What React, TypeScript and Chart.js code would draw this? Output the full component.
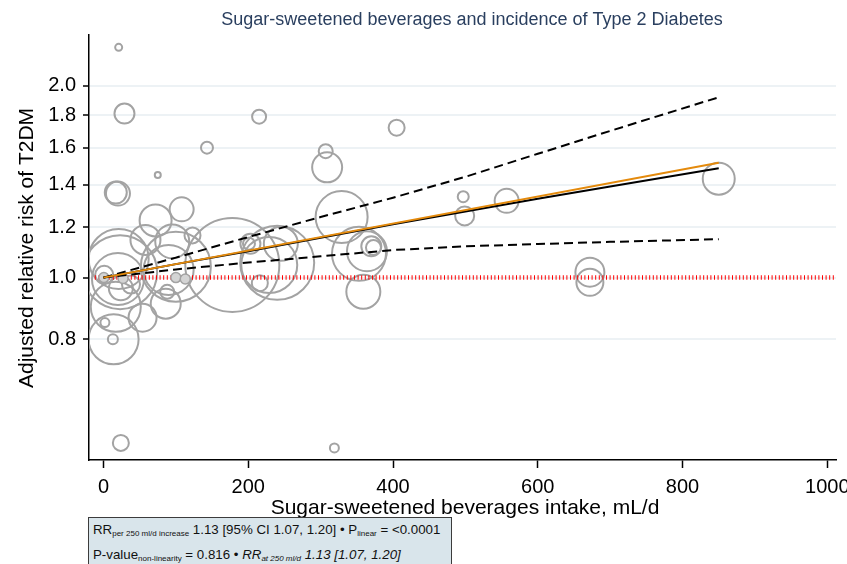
import React, { useEffect, useRef } from 'react';
import { Chart, registerables } from 'chart.js';

Chart.register(...registerables);

const TITLE = 'Sugar-sweetened beverages and incidence of Type 2 Diabetes';
const X_TITLE = 'Sugar-sweetened beverages intake, mL/d';
const Y_TITLE = 'Adjusted relative risk of T2DM';

const xTicks = [0, 200, 400, 600, 800, 1000];
const yTicks = [0.8, 1.0, 1.2, 1.4, 1.6, 1.8, 2.0];

// individual study estimates: dose (mL/d), relative risk, study weight (bubble radius)
const studyDose = [21, 29, 215, 143, 75, 307, 309, 17, 20, 72, 108, 329, 405, 497, 499, 557, 850, 672, 672, 24, 319, 359, 353, 364, 370, 373, 178, 203, 201, 245, 229, 240, 216, 58, 95, 123, 21, 23, 20, 100, 90, 24, 38, 17, 54, 86, 88, 2, 14, 13, 1];
const studyRR = [2.30, 1.81, 1.79, 1.60, 1.45, 1.58, 1.49, 1.36, 1.355, 1.23, 1.28, 1.245, 1.72, 1.34, 1.25, 1.32, 1.43, 1.02, 0.983, 0.55, 0.54, 0.95, 1.09, 1.10, 1.12, 1.115, 1.047, 1.13, 1.13, 1.13, 1.047, 1.055, 0.98, 1.146, 1.14, 1.165, 1.07, 1.02, 0.995, 1.04, 1.028, 0.962, 0.975, 0.90, 0.865, 0.91, 0.95, 0.85, 0.80, 0.80, 1.01];
const studyWeight = [3.5, 10, 7, 6, 3, 7, 15, 11, 12, 16, 12, 26, 8, 5.5, 9.5, 12, 16, 14.5, 13.5, 8, 4.5, 17, 27, 20, 10, 7.5, 47, 10, 6, 17, 28, 37, 8, 15, 17, 8, 30, 37, 26, 35, 25, 12, 9, 25, 14, 15, 7, 4.5, 25, 5, 9];

// reference categories
const refDose = [0.5, 27, 100, 113];
const refRR = [1.0, 0.997, 1.0, 0.995];
const refWeight = [5, 5, 5, 5];

// dose-response curves
const curveDose = [0, 100, 200, 300, 400, 500, 600, 700, 850];
const splineRR = [1.0, 1.05, 1.10, 1.155, 1.213, 1.27, 1.33, 1.39, 1.485];
const upperCI = [1.0, 1.075, 1.158, 1.245, 1.335, 1.44, 1.565, 1.70, 1.92];
const lowerCI = [1.0, 1.03, 1.056, 1.08, 1.105, 1.12, 1.129, 1.138, 1.149];
const linearDose = [0, 850];
const linearRR = [1.0, 1.515];
const nullDose = [-12, 1012];
const nullRR = [1.0, 1.0];

const FONT = "'Liberation Sans', Arial, Helvetica, sans-serif";

const zip = (xs: number[], ys: number[]) => xs.map((x, i) => ({ x, y: ys[i] }));

const textPlugin = {
  id: 'texts',
  afterDraw(chart: any) {
    const ctx = chart.ctx as CanvasRenderingContext2D;
    ctx.save();
    ctx.textAlign = 'center';
    ctx.textBaseline = 'middle';
    ctx.fillStyle = '#2a3f5f';
    ctx.font = `18px ${FONT}`;
    ctx.fillText(TITLE, 472, 20);
    ctx.fillStyle = '#000';
    ctx.font = `21px ${FONT}`;
    ctx.fillText(X_TITLE, 465, 508);
    ctx.translate(27, 248);
    ctx.rotate(-Math.PI / 2);
    ctx.fillText(Y_TITLE, 0, 0);
    ctx.restore();
  },
};

export default function App() {
  const ref = useRef<HTMLCanvasElement | null>(null);

  useEffect(() => {
    if (!ref.current) return;
    const chart = new Chart(ref.current, {
      type: 'bubble',
      data: {
        datasets: [
          {
            type: 'line',
            data: zip(linearDose, linearRR),
            borderColor: '#e48a0c',
            borderWidth: 2,
            pointRadius: 0,
            fill: false,
            order: 0,
          } as any,
          {
            type: 'line',
            data: zip(curveDose, splineRR),
            borderColor: '#000',
            borderWidth: 2,
            pointRadius: 0,
            fill: false,
            order: 1,
          } as any,
          {
            type: 'line',
            data: zip(curveDose, upperCI),
            borderColor: '#000',
            borderWidth: 2,
            borderDash: [9, 5],
            pointRadius: 0,
            fill: false,
            order: 2,
          } as any,
          {
            type: 'line',
            data: zip(curveDose, lowerCI),
            borderColor: '#000',
            borderWidth: 2,
            borderDash: [9, 5],
            pointRadius: 0,
            fill: false,
            order: 3,
          } as any,
          {
            type: 'bubble',
            data: refDose.map((x, i) => ({ x, y: refRR[i], r: refWeight[i] })),
            backgroundColor: '#d4d4d4',
            borderColor: '#a3a3a3',
            borderWidth: 1.5,
            order: 4,
          },
          {
            type: 'line',
            data: zip(nullDose, nullRR),
            borderColor: '#ff0000',
            borderWidth: 4.5,
            borderDash: [1, 2.6],
            pointRadius: 0,
            fill: false,
            order: 5,
          } as any,
          {
            type: 'bubble',
            data: studyDose.map((x, i) => ({ x, y: studyRR[i], r: studyWeight[i] })),
            backgroundColor: 'rgba(0,0,0,0)',
            borderColor: '#a3a3a3',
            borderWidth: 2,
            order: 10,
          },
        ],
      },
      options: {
        responsive: false,
        animation: false,
        events: [],
        layout: { autoPadding: false, padding: { left: 0, right: 11, top: 35, bottom: 0 } },
        plugins: {
          legend: { display: false },
          tooltip: { enabled: false },
          title: { display: false },
        },
        scales: {
          x: {
            type: 'linear',
            min: -20,
            max: 1012,
            afterBuildTicks: (s: any) => {
              s.ticks = xTicks.map((v) => ({ value: v }));
            },
            afterFit: (s: any) => {
              s.height = 104;
              s.paddingLeft = 0;
              s.paddingRight = 0;
            },
            grid: {
              drawOnChartArea: false,
              tickLength: 8,
              tickColor: '#000',
              tickWidth: 1.5,
            },
            border: { color: '#000', width: 1.5 },
            ticks: {
              color: '#000',
              font: { family: FONT, size: 20 },
              padding: 7,
              maxRotation: 0,
              autoSkip: false,
              callback: (v: any) => String(v),
            },
          },
          y: {
            type: 'logarithmic',
            min: 0.517,
            max: 2.405,
            afterBuildTicks: (s: any) => {
              s.ticks = yTicks.map((v) => ({ value: v }));
            },
            afterFit: (s: any) => {
              s.width = 89;
              s.paddingTop = 0;
              s.paddingBottom = 0;
            },
            grid: {
              color: '#edf2f5',
              lineWidth: 2,
              tickLength: 6,
              tickColor: '#000',
              tickWidth: 1.5,
            },
            border: { color: '#000', width: 1.5 },
            ticks: {
              color: '#000',
              font: { family: FONT, size: 20 },
              padding: 7,
              autoSkip: false,
              callback: (v: any) => Number(v).toFixed(1),
            },
          },
        },
      },
      plugins: [textPlugin],
    });
    return () => chart.destroy();
  }, []);

  const sub: React.CSSProperties = { fontSize: '8px', verticalAlign: '-2px' };

  return (
    <div style={{ position: 'absolute', left: 0, top: 0, width: 847, height: 564, overflow: 'hidden', background: '#fff' }}>
      <canvas ref={ref} width={847} height={564} style={{ width: 847, height: 564, display: 'block' }} />
      <div
        style={{
          position: 'absolute',
          left: 88,
          top: 517,
          width: 364,
          height: 60,
          boxSizing: 'border-box',
          background: '#d9e5eb',
          border: '1.5px solid #3c3c3c',
          fontFamily: FONT,
          fontSize: '13.3px',
          color: '#111',
          lineHeight: '15px',
        }}
      >
        <div style={{ position: 'absolute', left: 4, top: 4, whiteSpace: 'nowrap' }}>
          RR<span style={sub}>per 250 ml/d increase</span> 1.13 [95% CI 1.07, 1.20] • P<span style={sub}>linear</span> = &lt;0.0001
        </div>
        <div style={{ position: 'absolute', left: 4, top: 29, whiteSpace: 'nowrap' }}>
          P-value<span style={sub}>non-linearity</span> = 0.816 • <i>RR<span style={sub}>at 250 ml/d</span> 1.13 [1.07, 1.20]</i>
        </div>
      </div>
    </div>
  );
}
